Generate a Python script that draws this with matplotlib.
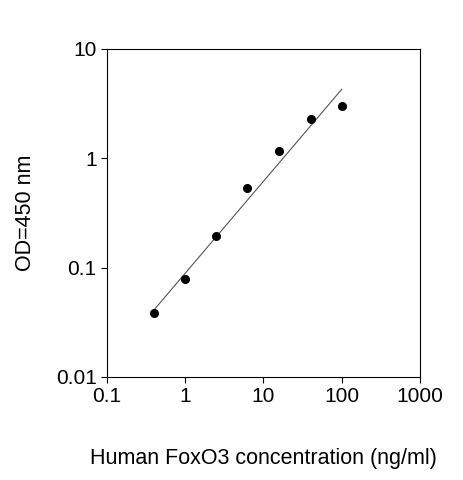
import matplotlib
matplotlib.use("Agg")
import matplotlib.pyplot as plt
import numpy as np
from matplotlib.ticker import FixedLocator, FixedFormatter, NullLocator

conc = [0.4, 1.0, 2.5, 6.25, 16, 40, 100]
od = [0.038, 0.078, 0.196, 0.53, 1.16, 2.27, 2.98]
fit_x = [0.4, 100]
fit_y = [0.041, 4.27]
xticks = [0.1, 1, 10, 100, 1000]
xlabels = ["0.1", "1", "10", "100", "1000"]
yticks = [0.01, 0.1, 1, 10]
ylabels = ["0.01", "0.1", "1", "10"]

plt.rcParams['font.family'] = ['Liberation Sans', 'DejaVu Sans']
fig = plt.figure(figsize=(4.63, 4.8), dpi=100)
ax = fig.add_axes([0.231, 0.215, 0.676, 0.683])
ax.set_xscale('log'); ax.set_yscale('log')
ax.plot(fit_x, fit_y, color='#555555', lw=0.8)
ax.plot(conc, od, 'o', color='black', ms=5.5)
ax.set_xlim(0.1, 1000); ax.set_ylim(0.01, 10)
ax.xaxis.set_major_locator(FixedLocator(xticks)); ax.xaxis.set_major_formatter(FixedFormatter(xlabels))
ax.yaxis.set_major_locator(FixedLocator(yticks)); ax.yaxis.set_major_formatter(FixedFormatter(ylabels))
ax.xaxis.set_minor_locator(NullLocator()); ax.yaxis.set_minor_locator(NullLocator())
ax.tick_params(labelsize=15, direction='out', length=4)
ax.set_xlabel('Human FoxO3 concentration (ng/ml)', fontsize=15.5, labelpad=30)
ax.set_ylabel('OD=450 nm', fontsize=15.5, labelpad=14)
fig.savefig('out.png', dpi=100)
